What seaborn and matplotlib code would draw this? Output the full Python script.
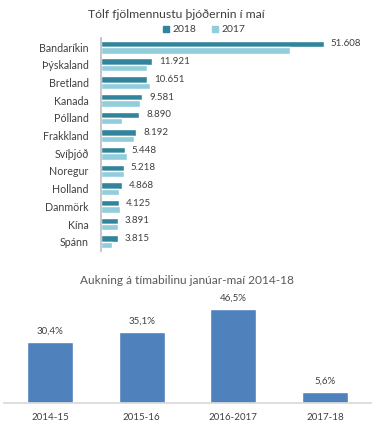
import matplotlib
matplotlib.use("Agg")
import matplotlib.pyplot as plt
import seaborn as sns
import pandas as pd

countries = ["Bandaríkin", "Þýskaland", "Bretland", "Kanada", "Pólland", "Frakkland",
             "Svíþjóð", "Noregur", "Holland", "Danmörk", "Kína", "Spánn"]
v2018 = [51608, 11921, 10651, 9581, 8890, 8192, 5448, 5218, 4868, 4125, 3891, 3815]
v2017 = [43700, 10700, 11350, 9000, 4900, 7600, 6000, 5300, 4200, 4400, 3850, 2550]

periods = ["2014-15", "2015-16", "2016-2017", "2017-18"]
growth = [30.4, 35.1, 46.5, 5.6]

sns.set_theme(style="white")
plt.rcParams["font.family"] = ["Lato", "DejaVu Sans"]

fig = plt.figure(figsize=(3.8, 4.24), dpi=100)

# ---- top chart ----
df = pd.DataFrame({
    "land": countries * 2,
    "fjoldi": [v / 1000 for v in v2018] + [v / 1000 for v in v2017],
    "ar": ["2018"] * len(countries) + ["2017"] * len(countries),
})
ax1 = fig.add_axes([0.266, 0.409, 0.681, 0.5007])
sns.barplot(data=df, y="land", x="fjoldi", hue="ar", orient="h",
            palette={"2018": "#31849B", "2017": "#92CDDC"}, width=0.72,
            ax=ax1, legend=False, saturation=1)
ax1.set_xlim(0, 60)
ax1.set_ylim(11.5, -0.5)
ax1.set_xlabel("")
ax1.set_ylabel("")
ax1.set_xticks([])
for s in ["top", "right", "bottom"]:
    ax1.spines[s].set_visible(False)
ax1.spines["left"].set_color("#BFBFBF")
ax1.tick_params(axis="y", length=0, pad=9, labelsize=7.7, labelcolor="#404040")
cont = ax1.containers[0]
for rect, v in zip(cont, v2018):
    lbl = f"{v:,}".replace(",", ".")
    ax1.text(rect.get_width() + 1.6, rect.get_y() + rect.get_height() / 2, lbl,
             va="center", ha="left", fontsize=7, color="#404040")

fig.text(0.463, 1 - 15 / 424, "Tólf fjölmennustu þjóðernin í maí", ha="center",
         va="center", fontsize=8.8, color="#404040")
from matplotlib.patches import Rectangle
fig.patches.append(Rectangle((163 / 380, 1 - 32 / 424), 6 / 380, 6 / 424,
                             transform=fig.transFigure, color="#31849B"))
fig.text(172 / 380, 1 - 29 / 424, "2018", ha="left", va="center", fontsize=7.5, color="#404040")
fig.patches.append(Rectangle((212 / 380, 1 - 32 / 424), 6 / 380, 6 / 424,
                             transform=fig.transFigure, color="#92CDDC"))
fig.text(221 / 380, 1 - 29 / 424, "2017", ha="left", va="center", fontsize=7.5, color="#404040")

# ---- bottom chart ----
df2 = pd.DataFrame({"timabil": periods, "aukning": growth})
ax2 = fig.add_axes([0.011, 0.0495, 0.965, 0.238])
sns.barplot(data=df2, x="timabil", y="aukning", color="#4F81BD", width=0.5,
            saturation=1, ax=ax2)
ax2.set_xlim(-0.5, 3.5)
ax2.set_ylim(0, 50)
ax2.set_xlabel("")
ax2.set_ylabel("")
ax2.set_yticks([])
for s in ["top", "right", "left"]:
    ax2.spines[s].set_visible(False)
ax2.spines["bottom"].set_color("#D9D9D9")
ax2.tick_params(axis="x", length=0, pad=7, labelsize=7, labelcolor="#404040")
for rect, g in zip(ax2.containers[0], growth):
    ax2.text(rect.get_x() + rect.get_width() / 2, rect.get_height() + 3.0,
             f"{g:.1f}%".replace(".", ","), ha="center", va="bottom",
             fontsize=7, color="#404040")
fig.text(0.493, 1 - 281 / 424, "Aukning á tímabilinu janúar-maí 2014-18", ha="center",
         va="center", fontsize=8.6, color="#595959")

fig.savefig("out.png", dpi=100)
